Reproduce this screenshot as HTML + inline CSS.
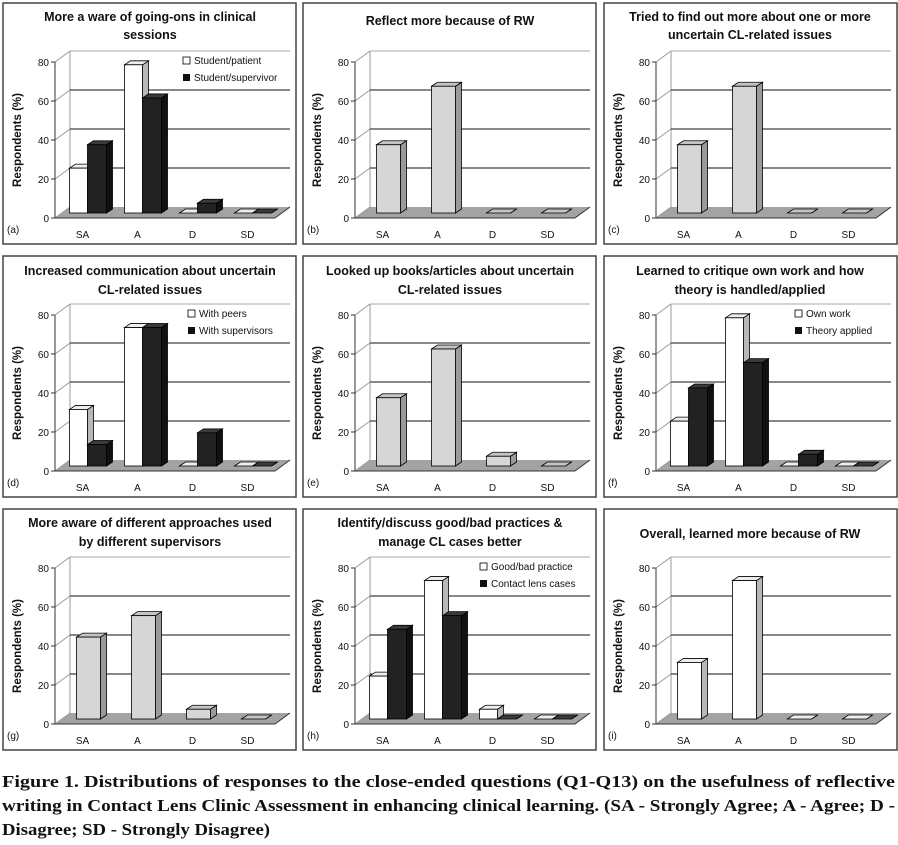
<!DOCTYPE html>
<html><head><meta charset="utf-8"><style>
body{margin:0;background:#fff;}
svg{display:block;}
.t{font-family:"Liberation Sans",sans-serif;font-weight:bold;font-size:12.5px;text-anchor:middle;fill:#111}
.k{font-family:"Liberation Sans",sans-serif;font-size:10px;fill:#111}
.y{font-family:"Liberation Sans",sans-serif;font-weight:bold;font-size:11.5px;fill:#111}
.c{font-family:"Liberation Serif",serif;font-weight:bold;font-size:17px;fill:#111}
</style></head><body>
<svg id="s" width="898" height="845" viewBox="0 0 898 845" xmlns="http://www.w3.org/2000/svg">
<g id="shapes"></g>
<text class="t" x="150" y="21">More a ware of going-ons in clinical</text>
<text class="t" x="150" y="39">sessions</text>
<text class="t" x="450" y="25">Reflect more because of RW</text>
<text class="t" x="750" y="21">Tried to find out more about one or more</text>
<text class="t" x="750" y="39">uncertain CL-related issues</text>
<text class="t" x="150" y="275">Increased communication about uncertain</text>
<text class="t" x="150" y="294">CL-related issues</text>
<text class="t" x="450" y="275">Looked up books/articles about uncertain</text>
<text class="t" x="450" y="294">CL-related issues</text>
<text class="t" x="750" y="275">Learned to critique own work and how</text>
<text class="t" x="750" y="294">theory is handled/applied</text>
<text class="t" x="150" y="527">More aware of different approaches used</text>
<text class="t" x="150" y="546">by different supervisors</text>
<text class="t" x="450" y="527">Identify/discuss good/bad practices &amp;</text>
<text class="t" x="450" y="546">manage CL cases better</text>
<text class="t" x="750" y="538">Overall, learned more because of RW</text>
<g id="labels"></g>
<text class="c" x="2" y="787" textLength="893" lengthAdjust="spacingAndGlyphs">Figure 1.  Distributions of responses to the close-ended questions (Q1-Q13) on the usefulness of reflective</text>
<text class="c" x="2" y="811" textLength="893" lengthAdjust="spacingAndGlyphs">writing in Contact Lens Clinic Assessment in enhancing clinical learning. (SA - Strongly Agree; A - Agree; D -</text>
<text class="c" x="2" y="835" textLength="268" lengthAdjust="spacingAndGlyphs">Disagree; SD - Strongly Disagree)</text>
</svg>
<script>
const NS="http://www.w3.org/2000/svg";
const G=document.getElementById('shapes'),L=document.getElementById('labels');
function el(p,tag,a,txt){const e=document.createElementNS(NS,tag);for(const k in a)e.setAttribute(k,a[k]);if(txt!==undefined)e.textContent=txt;p.appendChild(e);return e;}
const cols=[0,300,601],rows=[0,253,506];
const P=[
 {id:'a',s:[[23,35],[76,59],[0,5],[0,0]],leg:['Student/patient','Student/supervivor'],lx:183},
 {id:'b',s:[[35],[65],[0],[0]],c:'g'},
 {id:'c',s:[[35],[65],[0],[0]],c:'g'},
 {id:'d',s:[[29,11],[71,71],[0,17],[0,0]],leg:['With peers','With supervisors'],lx:188},
 {id:'e',s:[[35],[60],[5],[0]],c:'g'},
 {id:'f',s:[[23,40],[76,53],[0,6],[0,0]],leg:['Own work','Theory applied'],lx:194},
 {id:'g',s:[[42],[53],[5],[0]],c:'g'},
 {id:'h',s:[[22,46],[71,53],[5,0],[0,0]],leg:['Good/bad practice','Contact lens cases'],lx:180},
 {id:'i',s:[[29],[71],[0],[0]],c:'w'}
];
const COL={g:['#d6d6d6','#9a9a9a','#c4c4c4'],w:['#fff','#b8b8b8','#eee'],d:['#222','#111','#3a3a3a']};
const dx=15,dy=-11,sc=1.95;
function bar(ox,oy,x,w,v,c){
 const h=v*sc,b=oy+213,t=b-h,d=6,e=-4,k=COL[c];
 const st='stroke:#000;stroke-width:0.8';
 el(G,'polygon',{points:`${ox+x+w},${t} ${ox+x+w+d},${t+e} ${ox+x+w+d},${b+e} ${ox+x+w},${b}`,style:'fill:'+k[1]+';'+st});
 el(G,'polygon',{points:`${ox+x},${t} ${ox+x+d},${t+e} ${ox+x+w+d},${t+e} ${ox+x+w},${t}`,style:'fill:'+k[2]+';'+st});
 el(G,'rect',{x:ox+x,y:t,width:w,height:h,style:'fill:'+k[0]+';'+st});
}
P.forEach((p,i)=>{
 const ox=cols[i%3],oy=rows[Math.floor(i/3)];
 el(G,'rect',{x:ox+3,y:oy+3,width:293,height:241,fill:'none',stroke:'#444','stroke-width':1.5});
 const y0=oy+218,X0=ox+55;
 el(G,'polygon',{points:`${X0},${y0} ${X0+220},${y0} ${X0+220+dx},${y0+dy} ${X0+dx},${y0+dy}`,fill:'#a3a3a3'});
 el(G,'line',{x1:X0+220,y1:y0,x2:X0+220+dx,y2:y0+dy,stroke:'#333'});
 el(G,'line',{x1:X0+dx,y1:y0+dy,x2:X0+dx,y2:y0+dy-80*sc,stroke:'#999'});
 el(G,'line',{x1:X0+dx,y1:y0+dy-80*sc,x2:X0+220+dx,y2:y0+dy-80*sc,stroke:'#aaa'});
 for(let v=20;v<=60;v+=20){const yy=y0+dy-v*sc;el(G,'line',{x1:X0+dx,y1:yy,x2:X0+220+dx,y2:yy,stroke:'#111','stroke-width':1.1});}
 for(let v=0;v<=80;v+=20){const yy=y0-v*sc;
  el(G,'line',{x1:X0-4,y1:yy,x2:X0,y2:yy,stroke:'#333'});
  el(G,'line',{x1:X0,y1:yy,x2:X0+dx,y2:yy+dy,stroke:'#999'});
  el(L,'text',{class:'k',x:X0-6,y:yy+4,'text-anchor':'end'},String(v));}
 el(G,'line',{x1:X0,y1:y0,x2:X0,y2:y0-80*sc,stroke:'#333'});
 el(G,'line',{x1:X0,y1:y0,x2:X0+220,y2:y0,stroke:'#333'});
 ['SA','A','D','SD'].forEach((c,j)=>{
  const cx=55+55*(j+.5);
  el(L,'text',{class:'k',x:ox+cx,y:oy+238,'text-anchor':'middle'},c);
  const s=p.s[j],bc=cx+6;
  if(s.length==1)bar(ox,oy,bc-12,24,s[0],p.c);
  else{bar(ox,oy,bc-19,18,s[0],'w');bar(ox,oy,bc-1,19,s[1],'d');}
 });
 el(L,'text',{class:'k',x:ox+7,y:oy+233},'('+p.id+')');
 el(L,'text',{class:'y',x:0,y:0,'text-anchor':'middle',transform:`translate(${ox+21},${oy+140}) rotate(-90)`},'Respondents (%)');
 if(p.leg){
  el(G,'rect',{x:ox+p.lx,y:oy+57,width:7,height:7,fill:'#fff',stroke:'#000','stroke-width':0.8});
  el(G,'rect',{x:ox+p.lx,y:oy+74,width:7,height:7,fill:'#111'});
  el(L,'text',{class:'k',x:ox+p.lx+11,y:oy+64},p.leg[0]);
  el(L,'text',{class:'k',x:ox+p.lx+11,y:oy+81},p.leg[1]);
 }
});
</script>
</body></html>
